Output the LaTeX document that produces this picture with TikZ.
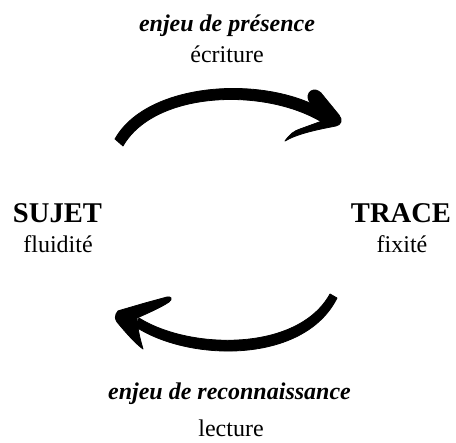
\documentclass[tikz,border=0pt]{standalone}
\usepackage{fontspec}
\setmainfont{Liberation Serif}
\begin{document}
\begin{tikzpicture}[x=1pt,y=-1pt,
  lbl/.style={anchor=base,inner sep=0pt,font=\fontsize{24}{28}\selectfont},
  kw/.style={anchor=base,inner sep=0pt,font=\fontsize{24}{28}\selectfont\bfseries\itshape},
  big/.style={anchor=base,inner sep=0pt,font=\fontsize{28.6}{32}\selectfont\bfseries},
  brush/.style={fill=black,draw=black,line width=0.8pt,line join=round}]
\useasboundingbox (0,0) rectangle (456,443);
% texts
\node[kw]  (enjp) at (227,32) {enjeu de présence};
\node[lbl] (ecr)  at (227,63) {écriture};
\node[big] (suj)  at (57.5,223) {SUJET};
\node[lbl] (flu)  at (58,253) {fluidité};
\node[big] (tra)  at (401,223) {TRACE};
\node[lbl] (fix)  at (402,253) {fixité};
\node[kw]  (enjr) at (229.5,400) {enjeu de reconnaissance};
\node[lbl] (lec)  at (231,437) {lecture};
% top arrow shaft
\fill[brush] (115,139) .. controls (148,80) and (272,74) .. (330,114)
  -- (325,124) .. controls (268,87) and (155,90) .. (123,146) -- cycle;
% top arrow head
\fill[brush] (311,91) .. controls (314,89) and (318,90) .. (321,93)
  -- (339,115) .. controls (343,120) and (341,125) .. (336,126)
  .. controls (315,130) and (297,134) .. (285,141)
  .. controls (290,134) and (294,131) .. (300,129)
  -- (322,121) -- (309,101) .. controls (307,97) and (308,93) .. cycle;
% bottom arrow shaft
\fill[brush] (330,294) -- (337,298) .. controls (304,364) and (190,362) .. (136,327)
  -- (139,318) .. controls (190,350) and (298,352) .. cycle;
% bottom arrow head
\fill[brush] (116,314) .. controls (117,311) and (119,310) .. (121,310)
  -- (145,303) -- (167,297) .. controls (171,296) and (173,299) .. (169,302)
  .. controls (160,308) and (148,313) .. (137,318)
  -- (138,327) .. controls (139,335) and (141,342) .. (143,349)
  .. controls (136,344) and (126,333) .. (117,322)
  .. controls (115,319) and (115,316) .. cycle;
\end{tikzpicture}
\end{document}
